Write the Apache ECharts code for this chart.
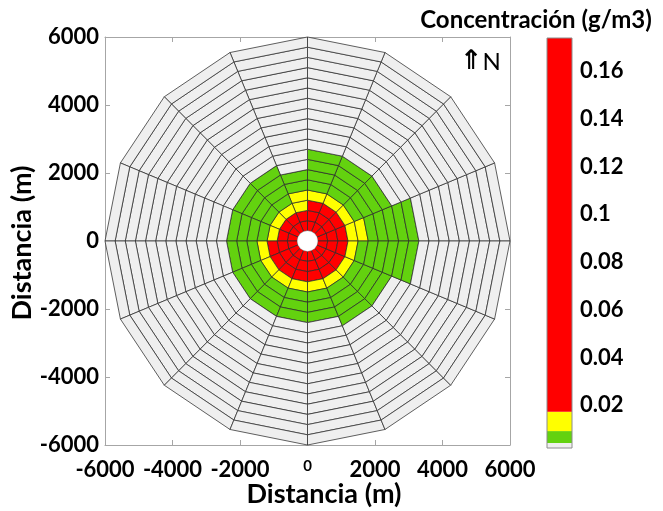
<!DOCTYPE html>
<html>
<head>
<meta charset="utf-8">
<script src="https://cdn.jsdelivr.net/npm/echarts@6/dist/echarts.min.js"></script>
<style>
  html, body { margin: 0; padding: 0; background: #ffffff; }
  #chart { width: 663px; height: 511px; }
</style>
</head>
<body>
<div id="chart"></div>
<script>
// Radial ring boundaries (m) and sector start angles (deg, counter-clockwise from east)
const ringEdges = [300, 600, 900, 1200, 1500, 1800, 2100, 2400, 2700, 3000,
                   3300, 3600, 3900, 4200, 4500, 4800, 5100, 5400, 5700, 6000];
const sectorStart = [0, 22.5, 45, 67.5, 90, 112.5, 135, 157.5,
                     180, 202.5, 225, 247.5, 270, 292.5, 315, 337.5];
const sectorWidth = 22.5;

// Concentration (g/m3) per ring, one array per sector
const conc000 = [0.168, 0.072, 0.031, 0.016, 0.011, 0.0088, 0.0075, 0.0064, 0.0055, 0.0047, 0.0038, 0.0034, 0.0031, 0.0029, 0.0027, 0.0025, 0.0024, 0.0022, 0.0021];
const conc022 = [0.155, 0.066, 0.028, 0.012, 0.0085, 0.0068, 0.0056, 0.0046, 0.0039, 0.0035, 0.0032, 0.0030, 0.0028, 0.0026, 0.0025, 0.0024, 0.0023, 0.0022, 0.0021];
const conc045 = [0.150, 0.062, 0.026, 0.012, 0.0084, 0.0067, 0.0055, 0.0045, 0.0038, 0.0034, 0.0031, 0.0029, 0.0027, 0.0026, 0.0025, 0.0024, 0.0023, 0.0022, 0.0021];
const conc067 = [0.158, 0.068, 0.029, 0.013, 0.0087, 0.0070, 0.0057, 0.0047, 0.0039, 0.0035, 0.0032, 0.0030, 0.0028, 0.0026, 0.0025, 0.0024, 0.0023, 0.0022, 0.0021];
const conc090 = [0.112, 0.041, 0.016, 0.0105, 0.0078, 0.0058, 0.0039, 0.0035, 0.0032, 0.0030, 0.0028, 0.0027, 0.0026, 0.0025, 0.0024, 0.0023, 0.0022, 0.0021, 0.0020];
const conc112 = [0.105, 0.036, 0.014, 0.0086, 0.0069, 0.0056, 0.0046, 0.0039, 0.0035, 0.0032, 0.0030, 0.0028, 0.0027, 0.0026, 0.0025, 0.0024, 0.0023, 0.0022, 0.0021];
const conc135 = [0.102, 0.034, 0.013, 0.0084, 0.0067, 0.0054, 0.0045, 0.0038, 0.0034, 0.0031, 0.0029, 0.0028, 0.0027, 0.0026, 0.0025, 0.0024, 0.0023, 0.0022, 0.0021];
const conc157 = [0.108, 0.038, 0.014, 0.0088, 0.0070, 0.0057, 0.0046, 0.0039, 0.0035, 0.0032, 0.0030, 0.0028, 0.0027, 0.0026, 0.0025, 0.0024, 0.0023, 0.0022, 0.0021];
const conc180 = [0.142, 0.058, 0.024, 0.011, 0.0078, 0.0061, 0.0048, 0.0039, 0.0035, 0.0032, 0.0030, 0.0028, 0.0027, 0.0026, 0.0025, 0.0024, 0.0023, 0.0022, 0.0021];
const conc202 = [0.138, 0.055, 0.023, 0.011, 0.0077, 0.0060, 0.0047, 0.0038, 0.0034, 0.0031, 0.0029, 0.0028, 0.0027, 0.0026, 0.0025, 0.0024, 0.0023, 0.0022, 0.0021];
const conc225 = [0.140, 0.056, 0.024, 0.011, 0.0079, 0.0061, 0.0048, 0.0039, 0.0035, 0.0032, 0.0030, 0.0028, 0.0027, 0.0026, 0.0025, 0.0024, 0.0023, 0.0022, 0.0021];
const conc247 = [0.145, 0.060, 0.025, 0.012, 0.0080, 0.0062, 0.0049, 0.0039, 0.0035, 0.0032, 0.0030, 0.0028, 0.0027, 0.0026, 0.0025, 0.0024, 0.0023, 0.0022, 0.0021];
const conc270 = [0.146, 0.060, 0.025, 0.012, 0.0081, 0.0063, 0.0049, 0.0039, 0.0035, 0.0032, 0.0030, 0.0028, 0.0027, 0.0026, 0.0025, 0.0024, 0.0023, 0.0022, 0.0021];
const conc292 = [0.150, 0.063, 0.027, 0.012, 0.0085, 0.0067, 0.0055, 0.0045, 0.0039, 0.0035, 0.0032, 0.0030, 0.0028, 0.0026, 0.0025, 0.0024, 0.0023, 0.0022, 0.0021];
const conc315 = [0.152, 0.064, 0.027, 0.012, 0.0085, 0.0067, 0.0055, 0.0045, 0.0039, 0.0035, 0.0032, 0.0030, 0.0028, 0.0026, 0.0025, 0.0024, 0.0023, 0.0022, 0.0021];
const conc337 = [0.165, 0.070, 0.030, 0.014, 0.0090, 0.0078, 0.0068, 0.0059, 0.0051, 0.0044, 0.0038, 0.0034, 0.0031, 0.0029, 0.0027, 0.0025, 0.0024, 0.0022, 0.0021];
const concBySector = [conc000, conc022, conc045, conc067, conc090, conc112, conc135, conc157,
                      conc180, conc202, conc225, conc247, conc270, conc292, conc315, conc337];

// Axis ticks
const distTicks = [-6000, -4000, -2000, 0, 2000, 4000, 6000];
const colorTicks = [0.02, 0.04, 0.06, 0.08, 0.1, 0.12, 0.14, 0.16];

// Colour scale bands (g/m3)
const bandLow   = [0.002, 0.0041, 0.0091, 0.0172];
const bandHigh  = [0.0041, 0.0091, 0.0172, 0.174];
const bandColor = ['#efefef', '#63d20f', '#ffff00', '#ff0000'];

const sourceRadius = 300;

const cellData = [];
concBySector.forEach((arr, s) => arr.forEach((v, i) => cellData.push([s, i, v])));
const bandData = bandLow.map((lo, k) => [0, lo, bandHigh[k], k]);

const FONT = 'Lato, "Open Sans", sans-serif';
const labelStyle = { color: '#000', fontFamily: FONT, fontWeight: 'bold', fontSize: 22 };
const frameColor = '#a6a6a6';

function deg(a) { return a * Math.PI / 180; }

function renderCell(params, api) {
  const s = api.value(0), i = api.value(1);
  const a0 = deg(sectorStart[s]), a1 = deg(sectorStart[s] + sectorWidth);
  const r0 = ringEdges[i], r1 = ringEdges[i + 1];
  const pts = [[r0, a0], [r1, a0], [r1, a1], [r0, a1]].map(
    ([r, a]) => api.coord([r * Math.cos(a), r * Math.sin(a)]));
  return {
    type: 'polygon',
    shape: { points: pts },
    style: { fill: api.visual('color'), stroke: '#2b2b2b', lineWidth: 0.75 }
  };
}

function renderSource(params, api) {
  const c = api.coord([api.value(0), api.value(1)]);
  const rad = api.size([sourceRadius, sourceRadius])[0];
  return { type: 'circle', shape: { cx: c[0], cy: c[1], r: rad }, style: { fill: '#ffffff', stroke: '#dddddd', lineWidth: 0.5 } };
}

function renderBand(params, api) {
  const k = api.value(3);
  const p0 = api.coord([0, api.value(1)]);
  const p1 = api.coord([0, api.value(2)]);
  const w = api.size([1, 0])[0];
  return {
    type: 'rect',
    shape: { x: p0[0] - w / 2, y: p1[1], width: w, height: p0[1] - p1[1] },
    style: { fill: bandColor[k] }
  };
}

const chart = echarts.init(document.getElementById('chart'), null, { renderer: 'canvas' });

const distAxisCommon = {
  type: 'value', min: distTicks[0], max: distTicks[distTicks.length - 1], interval: 2000,
  axisLine: { show: true, onZero: false, lineStyle: { color: frameColor, width: 1 } },
  axisTick: { show: true, inside: true, length: 5, lineStyle: { color: frameColor } },
  splitLine: { show: false }
};

chart.setOption({
  animation: false,
  backgroundColor: '#ffffff',
  grid: [
    { left: 105, top: 37, width: 405, height: 408 },
    { left: 547, top: 38, width: 25, height: 410 }
  ],
  xAxis: [
    Object.assign({}, distAxisCommon, {
      gridIndex: 0, position: 'bottom',
      axisLabel: {
        show: true, margin: 14,
        formatter: v => v === 0 ? '{s|0}' : String(v),
        ...labelStyle,
        rich: { s: { fontFamily: FONT, fontWeight: 'bold', fontSize: 15, color: '#000', padding: [0, 0, 10, 0] } }
      }
    }),
    Object.assign({}, distAxisCommon, { gridIndex: 0, position: 'top', axisLabel: { show: false } }),
    { type: 'category', gridIndex: 1, data: ['c'], show: false }
  ],
  yAxis: [
    Object.assign({}, distAxisCommon, {
      gridIndex: 0, position: 'left',
      axisLabel: { show: true, margin: 6, formatter: v => String(v), ...labelStyle }
    }),
    Object.assign({}, distAxisCommon, { gridIndex: 0, position: 'right', axisLabel: { show: false } }),
    {
      type: 'value', gridIndex: 1, position: 'right',
      min: bandLow[0], max: bandHigh[bandHigh.length - 1],
      axisLine: { show: false },
      splitLine: { show: false },
      axisTick: { show: true, inside: true, length: 4, customValues: colorTicks, lineStyle: { color: '#333' } },
      axisLabel: { show: true, margin: 8, customValues: colorTicks, formatter: v => String(v), ...labelStyle }
    }
  ],
  visualMap: {
    show: false, type: 'piecewise', seriesIndex: 0, dimension: 2,
    pieces: bandLow.map((lo, k) => ({ gte: lo === bandLow[0] ? 0 : lo, lt: k === bandLow.length - 1 ? 1 : bandHigh[k], color: bandColor[k] }))
  },
  series: [
    { type: 'custom', xAxisIndex: 0, yAxisIndex: 0, renderItem: renderCell, data: cellData, z: 2 },
    { type: 'custom', xAxisIndex: 0, yAxisIndex: 0, renderItem: renderSource, data: [[0, 0]], z: 3 },
    { type: 'custom', xAxisIndex: 2, yAxisIndex: 2, renderItem: renderBand, data: bandData, z: 2 }
  ],
  graphic: [
    { type: 'rect', z: 10, shape: { x: 547, y: 38, width: 25, height: 410 }, style: { fill: 'none', stroke: '#8c8c8c', lineWidth: 1 } },
    { type: 'text', x: 536, y: 20, style: { text: 'Concentración (g/m3)', font: 'bold 24px ' + FONT, fill: '#000', textAlign: 'center', textVerticalAlign: 'middle' } },
    { type: 'text', x: 324, y: 494, style: { text: 'Distancia (m)', font: 'bold 27px ' + FONT, fill: '#000', textAlign: 'center', textVerticalAlign: 'middle' } },
    { type: 'text', x: 22, y: 243, rotation: Math.PI / 2, style: { text: 'Distancia (m)', font: 'bold 27px ' + FONT, fill: '#000', textAlign: 'center', textVerticalAlign: 'middle' } },
    { type: 'text', x: 460, y: 62, style: { text: '{a|⇑}{n|N}', textVerticalAlign: 'middle',
        rich: { a: { fontFamily: '"DejaVu Sans"', fontSize: 27, fontWeight: 'bold', fill: '#000' }, n: { fontFamily: FONT, fontSize: 24, fill: '#000' } } } }
  ]
});
</script>
</body>
</html>
